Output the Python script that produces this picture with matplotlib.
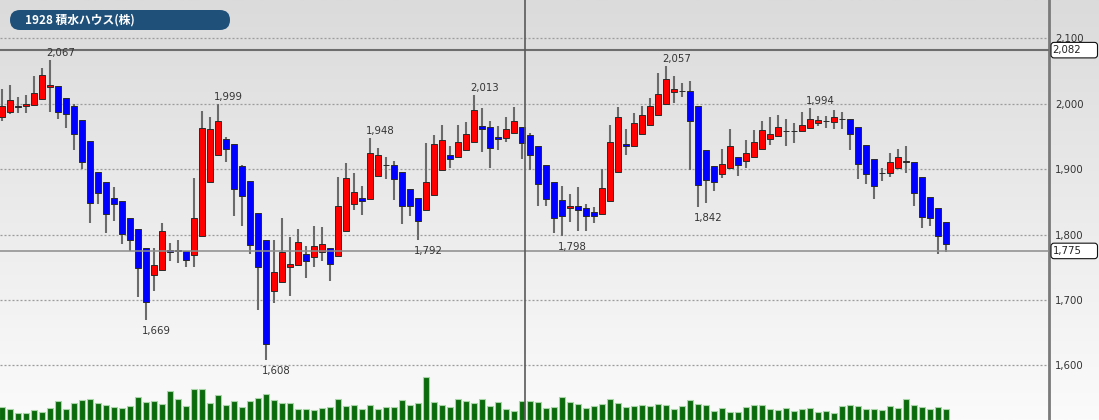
import numpy as np
import matplotlib
matplotlib.use('Agg')
import matplotlib.pyplot as plt
from matplotlib.patches import FancyBboxPatch
from matplotlib.colors import LinearSegmentedColormap

# daily OHLC (yen)
opens = [1979, 1988, 1997, 1997, 1998, 2007, 2025, 2027, 2008, 1996,
         1975, 1943, 1896, 1880, 1856, 1852, 1826, 1809, 1780, 1738,
         1746, 1777, 1775, 1775, 1768, 1797, 1880, 1921, 1946, 1939,
         1905, 1882, 1833, 1792, 1713, 1728, 1751, 1754, 1770, 1766,
         1774, 1780, 1767, 1806, 1846, 1856, 1854, 1889, 1906, 1906,
         1895, 1869, 1856, 1838, 1860, 1899, 1921, 1919, 1930, 1942,
         1966, 1964, 1949, 1947, 1955, 1964, 1952, 1936, 1907, 1881,
         1853, 1841, 1843, 1840, 1835, 1831, 1851, 1895, 1938, 1936,
         1953, 1968, 1983, 1999, 2018, 2020, 2020, 1997, 1929, 1905,
         1893, 1901, 1918, 1913, 1919, 1931, 1946, 1951, 1958, 1959,
         1958, 1963, 1970, 1973, 1972, 1976, 1977, 1965, 1937, 1915,
         1894, 1894, 1902, 1911, 1911, 1888, 1858, 1841, 1819]
highs = [2023, 2029, 2011, 2013, 2042, 2054, 2067, 2027, 2008, 2000,
         1975, 1943, 1896, 1880, 1872, 1852, 1826, 1809, 1780, 1780,
         1818, 1787, 1792, 1775, 1886, 1989, 1979, 1999, 1949, 1939,
         1907, 1882, 1833, 1792, 1792, 1826, 1796, 1809, 1783, 1813,
         1811, 1780, 1888, 1910, 1894, 1874, 1948, 1932, 1918, 1912,
         1895, 1869, 1856, 1940, 1952, 1967, 1936, 1967, 1972, 2013,
         1994, 1973, 1966, 1979, 1995, 1964, 1955, 1936, 1907, 1881,
         1874, 1862, 1872, 1847, 1842, 1900, 1967, 1995, 1961, 1986,
         1997, 2009, 2047, 2057, 2043, 2032, 2034, 1997, 1929, 1905,
         1931, 1962, 1918, 1945, 1960, 1974, 1979, 1982, 1977, 1971,
         1987, 1994, 1981, 1981, 1990, 1988, 1977, 1965, 1937, 1915,
         1902, 1925, 1931, 1936, 1911, 1888, 1858, 1841, 1819]
lows = [1974, 1985, 1986, 1986, 1996, 2005, 1987, 1977, 1963, 1930,
        1900, 1818, 1847, 1802, 1821, 1785, 1775, 1704, 1669, 1713,
        1746, 1759, 1757, 1751, 1751, 1797, 1880, 1921, 1911, 1828,
        1813, 1770, 1684, 1608, 1695, 1728, 1706, 1754, 1734, 1751,
        1759, 1729, 1767, 1806, 1838, 1830, 1854, 1889, 1885, 1853,
        1816, 1828, 1792, 1837, 1860, 1899, 1901, 1919, 1930, 1942,
        1926, 1902, 1929, 1941, 1955, 1915, 1899, 1843, 1843, 1803,
        1798, 1819, 1806, 1805, 1818, 1831, 1851, 1895, 1921, 1936,
        1953, 1968, 1983, 1999, 2001, 2010, 1899, 1842, 1848, 1867,
        1887, 1901, 1890, 1901, 1919, 1931, 1937, 1949, 1935, 1940,
        1958, 1963, 1966, 1963, 1962, 1962, 1930, 1885, 1878, 1854,
        1882, 1888, 1902, 1894, 1843, 1810, 1813, 1770, 1773]
closes = [1997, 2006, 1995, 2000, 2016, 2044, 2029, 1988, 1985, 1953,
          1911, 1848, 1864, 1832, 1847, 1801, 1792, 1749, 1697, 1754,
          1806, 1774, 1777, 1761, 1826, 1963, 1962, 1974, 1931, 1870,
          1859, 1784, 1751, 1633, 1742, 1774, 1755, 1788, 1760, 1782,
          1786, 1755, 1844, 1886, 1865, 1851, 1924, 1922, 1907, 1885,
          1844, 1843, 1821, 1881, 1938, 1944, 1916, 1941, 1954, 1990,
          1962, 1933, 1946, 1962, 1974, 1940, 1921, 1877, 1855, 1826,
          1829, 1844, 1837, 1829, 1828, 1871, 1941, 1980, 1935, 1970,
          1982, 1997, 2015, 2038, 2022, 2020, 1974, 1875, 1884, 1880,
          1908, 1935, 1907, 1924, 1942, 1960, 1954, 1964, 1959, 1959,
          1967, 1976, 1975, 1973, 1979, 1977, 1954, 1908, 1892, 1874,
          1894, 1911, 1918, 1912, 1864, 1827, 1825, 1797, 1786]
# volume (thousand shares, rough)
volumes = [1330, 1070, 670, 730, 1000, 800, 1230, 1900, 1130, 1730,
           2000, 2070, 1670, 1470, 1330, 1200, 1400, 2270, 1800, 1870,
           1600, 2930, 2130, 1400, 3130, 3070, 1730, 2530, 1470, 1870,
           1330, 1870, 2200, 2600, 2000, 1670, 1670, 1070, 1070, 1000,
           1200, 1330, 2070, 1400, 1470, 1130, 1470, 1070, 1270, 1270,
           2000, 1530, 1670, 4270, 1800, 1530, 1330, 2130, 1930, 1670,
           2070, 1400, 1800, 1130, 930, 1870, 1870, 1800, 1230, 1270,
           2330, 1800, 1600, 1200, 1400, 1600, 2070, 1730, 1330, 1400,
           1530, 1400, 1600, 1470, 1130, 1400, 2000, 1600, 1530, 930,
           1200, 800, 800, 1270, 1470, 1530, 1070, 1000, 1200, 930,
           1130, 1200, 830, 870, 670, 1400, 1470, 1400, 1130, 1130,
           1000, 1400, 1200, 2070, 1530, 1330, 1070, 1330, 1130]

# marked highs / lows
peaks = [(6, 'high'), (18, 'low'), (27, 'high'), (33, 'low'), (46, 'high'),
         (52, 'low'), (59, 'high'), (70, 'low'), (83, 'high'), (87, 'low'),
         (101, 'high')]

title = '1928 積水ハウス(株)'
ref_price = 2082
last_price = 1775
cursor_x = 65.34
yticks = [1600, 1700, 1800, 1900, 2000, 2100]

o = np.array(opens); h = np.array(highs); l = np.array(lows); c = np.array(closes)
x = np.arange(len(o))

W, H = 1099, 420
fig = plt.figure(figsize=(W / 100, H / 100), dpi=100)

# background gradient
bg = fig.add_axes([0, 0, 1, 1])
cmap = LinearSegmentedColormap.from_list('bg', ['#dbdbdb', '#fbfbfb'])
bg.imshow(np.linspace(0, 1, 256).reshape(-1, 1), cmap=cmap, aspect='auto')
bg.axis('off')

AXW = 1049 / W
xlim = (-0.25, (1049 - 2) / 8)

vax = fig.add_axes([0, 0, AXW, 1])
vax.patch.set_visible(False)
vax.set_xlim(*xlim)
vax.set_ylim(0, 42000)
vax.bar(x, volumes, width=0.85, color='#0b6a0b', edgecolor='#a6d6a6', linewidth=0.8)
vax.axis('off')

ax = fig.add_axes([0, 0, AXW, 1])
ax.patch.set_visible(False)
ax.set_xlim(*xlim)
ax.set_ylim(1516.4, 2158.6)

for v in yticks:
    ax.axhline(v, color='#9c9c9c', lw=0.9, ls=(0, (1.6, 1.6)), zorder=1)

ax.vlines(x, l, h, color='#6b6b6b', lw=1.5, zorder=2)
colors = np.where(c > o, '#ff0000', '#0000ff')
ax.bar(x, np.abs(c - o), bottom=np.minimum(o, c), width=0.75, color=colors,
       edgecolor='#2a2a2a', linewidth=0.7, zorder=3)

ax.axhline(ref_price, color='#6e6e6e', lw=1.5, zorder=4)
ax.axhline(last_price, color='#8c8c8c', lw=1.1, zorder=4)
ax.axvline(cursor_x, color='#5a5a5a', lw=1.2, zorder=4)

for i, kind in peaks:
    if kind == 'high':
        ax.annotate(f'{highs[i]:,}', xy=(i, highs[i]), xytext=(-3, 1.5),
                    textcoords='offset points', ha='left', va='bottom',
                    fontsize=7.3, color='#333333', zorder=5)
    else:
        ax.annotate(f'{lows[i]:,}', xy=(i, lows[i]), xytext=(-3, -4.5),
                    textcoords='offset points', ha='left', va='top',
                    fontsize=7.3, color='#333333', zorder=5)

for s in ['top', 'left', 'bottom']:
    ax.spines[s].set_visible(False)
ax.spines['right'].set_color('#7a7a7a')
ax.spines['right'].set_linewidth(2.0)
ax.set_xticks([])
ax.yaxis.tick_right()
ax.set_yticks(yticks)
ax.set_yticklabels([f'{v:,}' for v in yticks])
ax.tick_params(axis='y', length=0, pad=4.5, labelsize=7.3, labelcolor='#333333')

# price boxes on the scale
for val in [ref_price, last_price]:
    yin = ax.transData.transform((0, val))[1] / 100
    box = FancyBboxPatch((10.51, yin - 0.078), 0.465, 0.155,
                         boxstyle='round,pad=0,rounding_size=0.03',
                         transform=fig.dpi_scale_trans, fc='white', ec='#111111', lw=0.8)
    fig.add_artist(box)
    fig.text(10.525, yin, f'{val:,}', transform=fig.dpi_scale_trans,
             ha='left', va='center', fontsize=7.3, color='#222222', zorder=6)

# title badge
badge = FancyBboxPatch((0.10, 3.90), 2.20, 0.20, boxstyle='round,pad=0,rounding_size=0.1',
                       transform=fig.dpi_scale_trans, fc='#1f5079', ec='none')
fig.add_artist(badge)
fig.text(0.25, 4.0, title, transform=fig.dpi_scale_trans, ha='left', va='center',
         fontsize=8.5, fontweight='bold', color='white',
         family=['Noto Sans CJK JP', 'DejaVu Sans'], zorder=6)

fig.savefig('out.png', dpi=100)
